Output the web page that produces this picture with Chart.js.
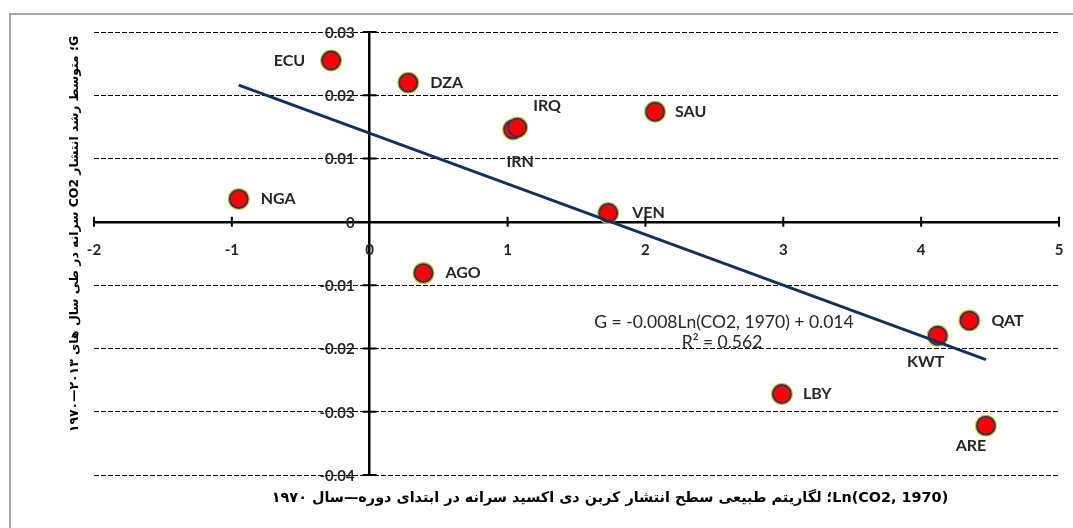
<!DOCTYPE html>
<html>
<head>
<meta charset="utf-8">
<script src="https://cdn.jsdelivr.net/npm/chart.js@4.4.1/dist/chart.umd.min.js"></script>
<style>
  html, body { margin: 0; padding: 0; background: #fff; }
  #frame { position: absolute; left: 9px; top: 13px; width: 1100px; height: 600px; border: 2px solid #a6a6a6; }
  #wrap { position: absolute; left: 0; top: 0; width: 1073px; height: 528px; }
</style>
</head>
<body>
<div id="frame"></div>
<div id="wrap"><canvas id="co2Chart"></canvas></div>
<script>
// countries, ln of CO2 per capita in 1970 (x) and average growth 1970-2013 (y)
const countries = ['ECU', 'DZA', 'IRN', 'IRQ', 'SAU', 'NGA', 'VEN', 'AGO', 'LBY', 'KWT', 'QAT', 'ARE'];
const lnCO2 = [-0.28, 0.28, 1.04, 1.07, 2.07, -0.95, 1.73, 0.39, 2.99, 4.12, 4.35, 4.47];
const growth = [0.0255, 0.0220, 0.0146, 0.0149, 0.0174, 0.0036, 0.0014, -0.0081, -0.0272, -0.0180, -0.0156, -0.0322];

// fitted trend line  G = -0.008 Ln(CO2,1970) + 0.014
const trendSlope = -0.008;
const trendIntercept = 0.014;
const rSquared = 0.562;

const xTicks = [-2, -1, 0, 1, 2, 3, 4, 5];
const yTicks = [0.03, 0.02, 0.01, 0, -0.01, -0.02, -0.03, -0.04];

const xTitle = 'Ln(CO2, 1970)\u200E؛ لگاریتم طبیعی سطح انتشار کربن دی اکسید سرانه در ابتدای دوره—سال ۱۹۷۰';
const yTitle = 'G؛ متوسط رشد انتشار CO2 سرانه در طی سال های ۱۹۷۰\u200E—\u200E۲۰۱۳';

// where each country name sits relative to its marker: [dx, dy, align]
const labelPlace = {
  ECU: [-26, 0, 'right'], DZA: [22, 0, 'left'], IRN: [7, 32, 'center'], IRQ: [16, -22, 'left'],
  SAU: [20, 0, 'left'], NGA: [22, 0, 'left'], VEN: [24, 0, 'left'], AGO: [22, 0, 'left'],
  LBY: [21, 0, 'left'], KWT: [-12, 26, 'center'], QAT: [22, 0, 'left'], ARE: [-15, 20, 'center']
};

const xMin = Math.min(...lnCO2), xMax = Math.max(...lnCO2);
const trendData = [
  { x: xMin, y: trendSlope * xMin + trendIntercept },
  { x: xMax, y: trendSlope * xMax + trendIntercept }
];
const pts = lnCO2.map((v, i) => ({ x: v, y: growth[i] }));

const annotate = {
  id: 'annotate',
  afterDraw(chart) {
    const { ctx, scales: { x, y } } = chart;
    const x0 = x.getPixelForValue(0), y0 = y.getPixelForValue(0);
    ctx.save();

    // tick marks crossing the axes
    ctx.strokeStyle = '#000';
    ctx.lineWidth = 2;
    ctx.beginPath();
    xTicks.forEach(v => {
      if (v === 0) return;
      const px = x.getPixelForValue(v);
      ctx.moveTo(px, y0 - 5); ctx.lineTo(px, y0 + 5);
    });
    yTicks.forEach(v => {
      if (v === 0) return;
      const py = y.getPixelForValue(v);
      ctx.moveTo(x0 - 7, py); ctx.lineTo(x0 + 7, py);
    });
    ctx.stroke();

    // tick labels
    ctx.font = 'bold 15px Lato';
    ctx.fillStyle = '#262626';
    ctx.textBaseline = 'middle';
    ctx.textAlign = 'right';
    yTicks.forEach(v => {
      ctx.fillText(String(Math.round(v * 100) / 100), x0 - 15, y.getPixelForValue(v) + 1);
    });
    ctx.textAlign = 'center';
    xTicks.forEach(v => {
      ctx.fillText(String(v), x.getPixelForValue(v), y0 + 28);
    });

    // country names
    const meta = chart.getDatasetMeta(1);
    ctx.font = 'bold 16px Lato';
    meta.data.forEach((pt, i) => {
      const [dx, dy, align] = labelPlace[countries[i]];
      ctx.textAlign = align;
      ctx.fillText(countries[i], pt.x + dx, pt.y + dy);
    });

    // equation and R squared
    ctx.font = '17.5px Lato';
    ctx.textAlign = 'center';
    ctx.fillText('G = ' + trendSlope.toFixed(3) + 'Ln(CO2, 1970) + ' + trendIntercept.toFixed(3), 724, 322);
    ctx.fillText('R² = ' + rSquared.toFixed(3), 722, 342);

    // axis titles (Persian, right to left)
    ctx.direction = 'rtl';
    ctx.fillStyle = '#000';
    ctx.font = 'bold 14.4px "DejaVu Sans"';
    ctx.fillText(xTitle, 610, 498);

    ctx.font = 'bold 12.4px "DejaVu Sans"';
    ctx.translate(75, 234);
    ctx.rotate(-Math.PI / 2);
    ctx.fillText(yTitle, 0, 0);
    ctx.restore();
  }
};

new Chart(document.getElementById('co2Chart'), {
  type: 'scatter',
  data: {
    datasets: [{
      type: 'line',
      label: 'trend',
      data: trendData,
      borderColor: '#14305c',
      borderWidth: 3,
      pointRadius: 0,
      fill: false
    }, {
      label: 'countries',
      data: pts,
      pointRadius: 9,
      pointBackgroundColor: '#ff0000',
      pointBorderColor: '#1f3864',
      pointBorderWidth: 1.8
    }, {
      label: 'halo',
      data: pts,
      pointRadius: 11,
      pointBackgroundColor: '#e8b923',
      pointBorderWidth: 0
    }]
  },
  options: {
    responsive: true,
    maintainAspectRatio: false,
    animation: false,
    layout: { padding: { left: 94, right: 14, top: 32, bottom: 53 } },
    plugins: { legend: { display: false }, tooltip: { enabled: false } },
    scales: {
      x: {
        type: 'linear',
        position: { y: 0 },
        min: -2,
        max: 5,
        afterBuildTicks: axis => { axis.ticks = xTicks.map(v => ({ value: v })); },
        afterFit: axis => { axis.height = 0; },
        grid: { display: false, drawTicks: false },
        border: { display: true, color: '#000', width: 2.5 },
        ticks: { display: false }
      },
      y: {
        type: 'linear',
        position: { x: 0 },
        min: -0.04,
        max: 0.03,
        afterBuildTicks: axis => { axis.ticks = yTicks.map(v => ({ value: v })); },
        afterFit: axis => { axis.width = 0; },
        grid: {
          drawTicks: false,
          lineWidth: 1,
          color: c => (c.tick && c.tick.value === 0) ? 'rgba(0,0,0,0)' : '#000'
        },
        border: { display: true, color: '#000', width: 2.5, dash: [5, 2] },
        ticks: { display: false }
      }
    }
  },
  plugins: [annotate]
});
</script>
</body>
</html>
